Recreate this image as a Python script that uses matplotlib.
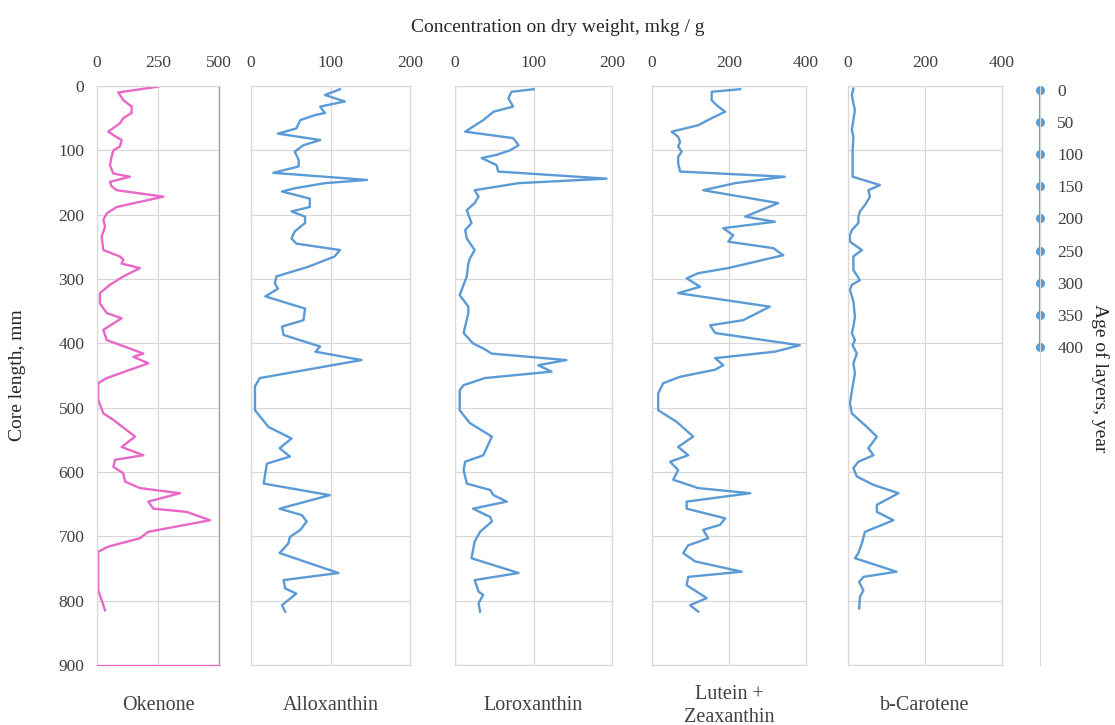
import matplotlib
matplotlib.use("Agg")
import matplotlib.pyplot as plt

plt.rcParams['font.family'] = ['Liberation Serif', 'DejaVu Serif']

# ---- data (depth in mm, concentration in mkg/g) ----
okenone_depth = [1, 10, 22, 32, 42, 50, 58, 71, 78, 84, 94, 100, 110, 123, 136, 141, 149, 156, 162, 172,
                 188, 198, 208, 219, 234, 255, 265, 270, 276, 283, 296, 309, 322, 338, 353, 361, 379, 395, 410, 416,
                 421, 431, 454, 462, 488, 509, 519, 545, 561, 574, 581, 592, 602, 615, 625, 633, 646, 657, 662, 675,
                 693, 703, 716, 724, 784, 799, 815]
okenone = [251, 87, 108, 142, 142, 108, 94, 46, 74, 101, 94, 67, 60, 53, 67, 135, 53, 60, 81, 272,
           81, 40, 26, 33, 19, 26, 94, 108, 101, 176, 108, 53, 12, 12, 40, 101, 26, 40, 149, 190,
           149, 210, 40, 5, 5, 26, 67, 156, 101, 190, 74, 67, 108, 115, 176, 340, 210, 231, 367, 463,
           210, 176, 46, 5, 5, 19, 33]

allox_depth = [5, 14, 24, 32, 42, 45, 53, 66, 74, 84, 92, 102, 115, 125, 135, 146, 151, 159, 164, 175,
               188, 195, 203, 213, 226, 237, 245, 255, 265, 281, 296, 307, 315, 327, 346, 364, 374, 387, 405, 413,
               426, 454, 467, 504, 530, 548, 563, 576, 587, 602, 618, 636, 657, 667, 677, 690, 701, 711, 726, 757,
               768, 781, 789, 807, 817]
allox = [112, 93, 118, 87, 93, 81, 62, 57, 34, 87, 66, 55, 60, 60, 28, 146, 93, 55, 39, 74,
         74, 51, 68, 68, 55, 51, 57, 112, 105, 72, 32, 30, 34, 18, 68, 66, 39, 41, 87, 81,
         139, 11, 5, 5, 22, 51, 36, 49, 20, 18, 16, 99, 36, 64, 70, 62, 49, 47, 36, 110,
         41, 43, 57, 39, 43]

lorox_depth = [5, 9, 19, 32, 40, 53, 71, 81, 92, 100, 107, 112, 123, 133, 144, 151, 162, 172, 182, 193,
               213, 224, 237, 255, 268, 276, 296, 325, 343, 353, 384, 400, 408, 416, 426, 434, 444, 454, 465, 473,
               504, 524, 545, 574, 584, 597, 618, 628, 636, 646, 657, 670, 677, 693, 708, 721, 734, 757, 768, 786,
               791, 804, 817]
lorox = [100, 72, 68, 74, 49, 36, 13, 74, 81, 70, 53, 34, 53, 55, 193, 81, 25, 30, 25, 15,
         21, 13, 15, 25, 19, 17, 15, 6, 17, 17, 11, 23, 36, 47, 142, 106, 123, 38, 11, 6,
         6, 19, 47, 36, 13, 11, 15, 45, 49, 66, 23, 45, 47, 32, 25, 23, 21, 81, 25, 30,
         36, 30, 32]

lutein_depth = [5, 9, 22, 30, 40, 50, 61, 71, 79, 87, 94, 102, 110, 120, 133, 141, 151, 162, 182, 203,
                211, 221, 232, 242, 252, 263, 283, 291, 299, 312, 322, 343, 364, 372, 384, 403, 413, 423, 434, 441,
                452, 462, 478, 504, 522, 545, 561, 574, 584, 597, 612, 625, 633, 646, 657, 672, 682, 690, 703, 714,
                726, 739, 755, 763, 776, 796, 807, 817]
lutein = [229, 155, 155, 168, 190, 155, 120, 51, 68, 73, 68, 77, 68, 68, 73, 345, 216, 133, 328, 242,
          319, 185, 211, 198, 315, 341, 198, 120, 90, 125, 68, 306, 237, 151, 164, 384, 319, 164, 185, 164,
          73, 29, 16, 16, 64, 107, 68, 94, 47, 68, 55, 120, 255, 90, 90, 190, 177, 133, 146, 94,
          81, 112, 233, 94, 90, 142, 99, 120]

bcar_depth = [4, 14, 27, 37, 53, 68, 79, 100, 141, 154, 162, 172, 185, 195, 203, 213, 224, 232, 242, 255,
              265, 286, 302, 309, 317, 335, 359, 374, 384, 395, 403, 416, 431, 447, 467, 493, 509, 530, 545, 563,
              574, 584, 594, 607, 620, 633, 651, 662, 675, 693, 711, 726, 734, 755, 763, 771, 784, 794, 812]
bcar = [14, 10, 14, 18, 14, 10, 14, 12, 12, 83, 53, 57, 44, 31, 27, 27, 10, 5, 5, 36,
        14, 14, 31, 10, 5, 14, 18, 14, 10, 18, 12, 23, 14, 18, 12, 5, 10, 49, 75, 53,
        66, 27, 14, 23, 66, 131, 75, 75, 118, 44, 36, 27, 18, 126, 40, 29, 40, 31, 29]

ages = [0, 50, 100, 150, 200, 250, 300, 350, 400]

names = ['Okenone', 'Alloxanthin', 'Loroxanthin', 'Lutein +\nZeaxanthin', 'b-Carotene']
xmaxes = [500, 200, 200, 400, 400]

BLUE = '#5b9bd5'
PINK = '#e868c8'
GRID = '#d9d9d9'
TXT = '#404040'

fig = plt.figure(figsize=(11.15, 7.25), dpi=100)

W, H = 1115, 725
bottom = 1 - 665 / H
height = (665 - 86) / H
lefts = [97, 251, 455, 652, 848]
rights = [219, 410, 612, 806, 1002]

series = [(okenone, okenone_depth), (allox, allox_depth), (lorox, lorox_depth),
          (lutein, lutein_depth), (bcar, bcar_depth)]

for i, ((vals, dep), name, xm) in enumerate(zip(series, names, xmaxes)):
    ax = fig.add_axes([lefts[i] / W, bottom, (rights[i] - lefts[i]) / W, height])
    color = PINK if i == 0 else BLUE
    ax.plot(vals, dep, color=color, lw=1.7)
    ax.set_xlim(0, xm)
    ax.set_ylim(900, 0)
    ax.set_xticks([0, xm // 2, xm])
    ax.set_yticks(range(0, 901, 100))
    ax.xaxis.tick_top()
    ax.grid(color=GRID, lw=0.9)
    ax.set_axisbelow(True)
    for s in ax.spines.values():
        s.set_color(GRID)
        s.set_linewidth(0.9)
    if i == 0:
        ax.spines['right'].set_color(PINK)
        ax.spines['bottom'].set_color(PINK)
    ax.tick_params(length=0, labelsize=12.5, colors=TXT, pad=10.5)
    ax.tick_params(axis='y', pad=9)
    if i > 0:
        ax.tick_params(labelleft=False)
    ax.text(0.5, -0.0708, name, transform=ax.transAxes, ha='center', va='center',
            fontsize=14.5, color=TXT, linespacing=1.25)

# age axis
ax_age = fig.add_axes([1040 / W, bottom, 0.0005, height])
ax_age.plot([0] * len(ages), ages, color=BLUE, lw=1.5, marker='o', ms=5.5, clip_on=False)
ax_age.set_xlim(-1, 1)
ax_age.set_ylim(895, -6)
ax_age.set_xticks([])
ax_age.set_yticks(ages)
for k in ['top', 'right', 'bottom']:
    ax_age.spines[k].set_visible(False)
ax_age.spines['left'].set_color(GRID)
ax_age.tick_params(length=0, labelleft=False, labelright=True, labelsize=12.5, colors=TXT, pad=12)
ax_age.patch.set_visible(False)

fig.text(558 / W, 1 - 27 / H, 'Concentration on dry weight, mkg / g', ha='center', va='center',
         fontsize=14, color='#262626')
fig.text(18 / W, 1 - 375 / H, 'Core length, mm', rotation=90, ha='center', va='center',
         fontsize=14, color='#262626')
fig.text(1100 / W, 1 - 378 / H, 'Age of layers, year', rotation=-90, ha='center', va='center',
         fontsize=14, color='#262626')

fig.savefig('out.png', dpi=100)
